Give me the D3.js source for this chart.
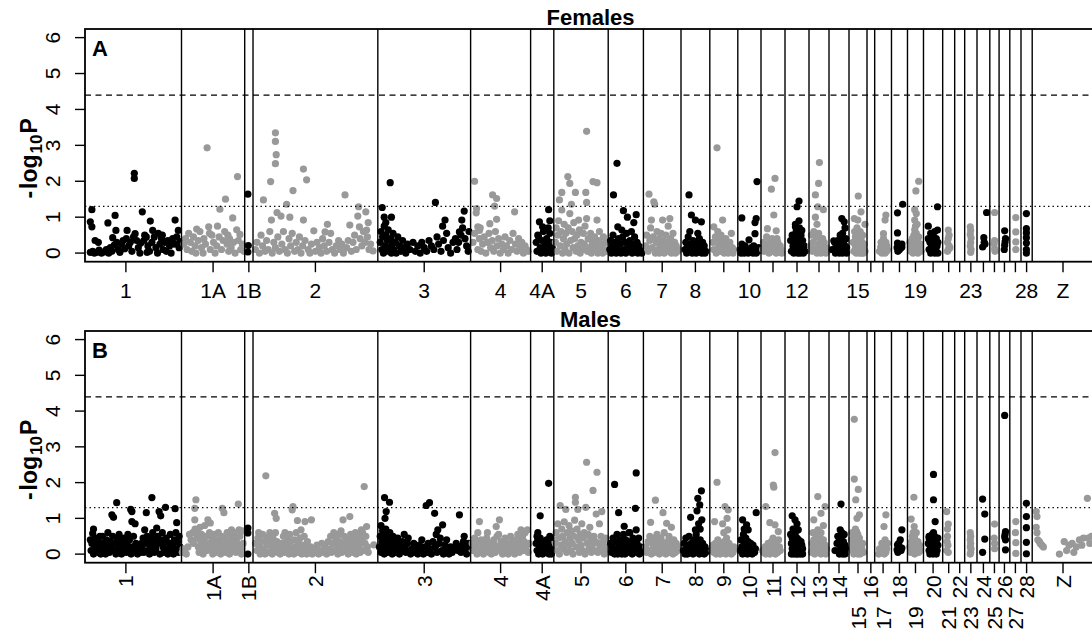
<!DOCTYPE html>
<html><head><meta charset="utf-8">
<script src="https://cdn.jsdelivr.net/npm/d3@7"></script>
<style>body{margin:0;background:#fff}</style>
</head><body><svg id="chart" width="1092" height="634"></svg>
<script>
// ---------------- data ----------------
const chromosomes = ["1","1A","1B","2","3","4","4A","5","6","7","8","9","10","11","12","13","14","15","16","17","18","19","20","21","22","23","24","25","26","27","28","Z"];
const chromLengthMb = [139,79,10.4,156,116,75,29,68,44,47,36,35,29,30,30,25,25,22.5,9.6,21,20,20,24,15,12.5,15.4,16,11.6,13.4,14,14,77];
const yTicks = [0,1,2,3,4,5,6];
const suggestiveLine = 1.3;
const significanceLine = 4.4;
const femaleTickLabels = ["1","1A","1B","2","3","4","4A","5","6","7","8","10","12","15","19","23","28","Z"];
const maleLowerRowLabels = ["15","17","19","21","23","25","27"];
const panelTitles = ["Females","Males"];
const panelLetters = ["A","B"];

// [chromosome, [[position Mb, -log10 P], ...]]
const femaleSNPs = [
["1",[[27,1.21],[25,0.87],[27,0.73],[31,0.35],[35,0.3],[47,0.84],[56,1.05],[57,0.63],[53,0.43],[80,2.22],[80,2.08],[71,0.63],[81,0.54],[90,1.15],[100,0.89],[93,0.5],[103,0.63],[110,0.55],[131,0.92],[135,0.63],
[25,0.02],[28,0.05],[30,0.0],[33,0.02],[36,0.08],[39,0.0],[42,0.03],[45,0.1],[48,0.0],[50,0.15],[52,0.05],[55,0.22],[58,0.3],[60,0.1],[62,0.02],[64,0.25],[66,0.35],[68,0.12],[70,0.4],[73,0.2],[75,0.3],[77,0.05],[79,0.45],[83,0.35],[85,0.15],[87,0.0],[88,0.28],[92,0.35],[95,0.45],[97,0.2],[99,0.05],[102,0.3],[105,0.45],[107,0.15],[109,0.0],[112,0.25],[114,0.4],[116,0.1],[118,0.3],[120,0.05],[122,0.35],[124,0.2],[126,0.0],[128,0.4],[130,0.25],[133,0.45],[136,0.15],[137,0.32],[115,0.5],[96,0.02]]],
["1A",[[32,2.93],[70,2.13],[55,1.5],[48,1.22],[64,0.98],[45,0.75],[34,0.73],[19,0.67],[69,0.65],[73,0.52],
[3,0.25],[5,0.4],[7,0.1],[9,0.55],[11,0.3],[13,0.05],[15,0.45],[17,0.2],[18,0.0],[21,0.35],[23,0.6],[25,0.15],[27,0.0],[28,0.4],[30,0.25],[36,0.1],[38,0.5],[40,0.3],[42,0.0],[44,0.2],[47,0.45],[50,0.1],[52,0.35],[54,0.6],[57,0.25],[59,0.05],[60,0.4],[62,0.15],[65,0.3],[67,0.0],[71,0.35],[74,0.1],[76,0.25],[78,0.05],[35,0.55],[58,0.5]]],
["1B",[[4,1.64],[4.5,0.21],[4,0.03]]],
["2",[[28,3.35],[28,3.11],[29,2.74],[28,2.49],[22,1.99],[13,1.48],[63,2.34],[67,2.04],[50,1.74],[42,1.36],[115,1.62],[132,1.29],[141,1.15],[30,1.13],[23,0.92],[35,1.03],[46,1.0],[63,0.92],[76,0.62],[93,0.8],[90,0.59],[131,1.03],[133,0.73],[142,0.64],[121,0.78],[150,0.06],
[3,0.1],[5,0.3],[8,0.0],[10,0.5],[12,0.2],[15,0.05],[17,0.35],[19,0.1],[21,0.6],[24,0.0],[26,0.3],[28,0.15],[31,0.45],[33,0.05],[36,0.25],[38,0.6],[40,0.1],[43,0.0],[45,0.4],[47,0.2],[49,0.55],[52,0.05],[54,0.3],[56,0.1],[58,0.45],[60,0.0],[62,0.2],[65,0.35],[69,0.1],[71,0.0],[73,0.25],[78,0.05],[80,0.3],[83,0.15],[85,0.0],[87,0.4],[89,0.2],[92,0.05],[95,0.3],[97,0.55],[99,0.1],[102,0.0],[104,0.2],[107,0.35],[109,0.1],[111,0.25],[113,0.0],[117,0.15],[119,0.35],[123,0.05],[125,0.3],[127,0.5],[129,0.1],[134,0.4],[136,0.2],[138,0.6],[140,0.3],[143,0.45],[145,0.1],[147,0.25],[144,0.85]]],
["3",[[15.5,1.96],[5.5,1.27],[72,1.41],[108,1.17],[105,0.92],[84,0.92],[81,0.75],[102,0.59],[17,1.0],[8,1.0],[10,0.85],
[3,0.3],[4,0.6],[5,0.1],[6,0.45],[7,0.0],[8,0.75],[9,0.2],[10,0.5],[11,0.05],[12,0.35],[13,0.65],[14,0.15],[16,0.4],[17,0.0],[18,0.25],[19,0.55],[20,0.1],[22,0.3],[23,0.0],[25,0.45],[27,0.2],[29,0.05],[31,0.35],[33,0.15],[35,0.0],[37,0.25],[40,0.1],[44,0.3],[47,0.05],[50,0.2],[53,0.0],[55,0.3],[58,0.15],[61,0.05],[64,0.35],[67,0.2],[70,0.1],[74,0.45],[76,0.25],[79,0.05],[82,0.35],[86,0.55],[88,0.15],[91,0.0],[94,0.3],[97,0.4],[99,0.1],[101,0.3],[104,0.5],[106,0.7],[109,0.4],[111,0.2],[113,0.05],[114,0.6]]],
["4",[[5,2.0],[27.5,1.62],[32.5,1.52],[7.5,1.24],[7,1.12],[30,1.31],[55,1.15],[32.5,0.94],[24,0.82],[9,0.73],[11,0.63],
[3,0.3],[5,0.55],[9,0.1],[11,0.4],[13,0.05],[15,0.25],[17,0.45],[19,0.0],[21,0.3],[23,0.55],[25,0.15],[27,0.35],[29,0.05],[31,0.6],[33,0.2],[35,0.4],[37,0.0],[39,0.25],[41,0.1],[43,0.45],[45,0.2],[47,0.0],[49,0.35],[51,0.1],[53,0.55],[56,0.25],[58,0.05],[60,0.4],[62,0.15],[64,0.3],[66,0.0],[68,0.2],[70,0.1],[72,0.05],[12,0.7]]],
["4A",[[22.5,1.21],[24,0.9],[11,0.87],[15,0.73],[9,0.5],
[7,0.3],[8,0.05],[10,0.45],[12,0.15],[13,0.0],[14,0.35],[16,0.6],[17,0.1],[18,0.25],[19,0.0],[20,0.4],[21,0.2],[23,0.05],[24,0.55],[25,0.3],[26,0.0],[27,0.15],[22,0.7]]],
["5",[[41,3.39],[17.5,2.13],[20,1.94],[10,1.69],[27,1.69],[40,1.69],[49,1.99],[54,1.96],[7,1.48],[22,1.36],[41,1.41],[10,1.2],[20,1.1],[31,0.92],[41,0.96],[54,0.92],
[2,0.3],[3,0.7],[4,0.05],[5,0.5],[6,0.9],[8,0.2],[9,0.6],[11,0.0],[12,0.4],[13,0.8],[14,0.1],[15,0.55],[16,0.25],[18,0.7],[19,0.0],[21,0.35],[23,0.6],[24,0.15],[25,0.85],[26,0.4],[28,0.05],[29,0.5],[30,0.2],[32,0.65],[33,0.0],[34,0.3],[36,0.1],[37,0.55],[38,0.25],[39,0.75],[42,0.05],[43,0.4],[44,0.15],[46,0.55],[47,0.0],[48,0.3],[50,0.1],[51,0.45],[52,0.2],[55,0.0],[56,0.35],[57,0.6],[58,0.1],[60,0.25],[61,0.0],[62,0.45],[64,0.1],[65,0.3],[66,0.05]]],
["6",[[11,2.5],[6.6,1.62],[19,1.18],[24,1.0],[35,1.07],[12,0.73],[17,0.64],[32,0.85],[29,0.6],
[2,0.1],[3,0.35],[4,0.0],[5,0.2],[6,0.5],[8,0.05],[9,0.3],[10,0.0],[12,0.15],[13,0.4],[14,0.05],[15,0.25],[16,0.0],[18,0.45],[20,0.1],[21,0.3],[22,0.0],[23,0.55],[25,0.2],[26,0.05],[27,0.35],[28,0.1],[30,0.0],[31,0.25],[33,0.45],[34,0.1],[36,0.3],[37,0.0],[38,0.2],[40,0.05],[41,0.15],[42,0.0]]],
["7",[[7,1.64],[13,1.43],[14,1.36],[10,0.92],[24,0.92],[33,0.96],
[3,0.2],[4,0.5],[6,0.05],[8,0.35],[9,0.7],[11,0.15],[12,0.45],[15,0.0],[16,0.3],[17,0.6],[18,0.1],[19,0.4],[20,0.0],[21,0.25],[22,0.55],[23,0.1],[25,0.35],[26,0.0],[27,0.2],[28,0.5],[29,0.05],[30,0.3],[31,0.75],[32,0.15],[34,0.4],[35,0.0],[36,0.25],[37,0.55],[38,0.1],[39,0.3],[40,0.0],[41,0.2],[43,0.05],[44,0.1]]],
["8",[[10,1.62],[13,1.06],[18,0.92],[25.5,0.87],[11,0.6],[21,0.55],
[5,0.1],[6,0.3],[7,0.0],[8,0.2],[9,0.45],[11,0.05],[12,0.25],[14,0.0],[15,0.35],[16,0.1],[17,0.2],[19,0.0],[20,0.3],[22,0.05],[23,0.4],[24,0.15],[26,0.0],[27,0.3],[28,0.1],[29,0.2],[30,0.0],[31,0.05],[10,0.15],[20,0.1]]],
["9",[[9,2.93],[16,0.92],[5,0.73],[10,0.6],
[4,0.3],[5,0.1],[7,0.45],[8,0.0],[11,0.2],[12,0.35],[13,0.05],[14,0.5],[15,0.15],[17,0.3],[18,0.0],[19,0.2],[20,0.4],[21,0.1],[22,0.25],[23,0.0],[24,0.15],[25,0.3],[26,0.05],[27,0.55],[28,0.15],[29,0.0],[30,0.1]]],
["10",[[24,1.99],[5,0.98],[23,0.96],[21.5,0.85],[21.5,0.54],[14,0.37],
[3,0.1],[4,0.0],[5,0.25],[6,0.05],[7,0.15],[8,0.0],[9,0.2],[10,0.05],[12,0.1],[13,0.0],[15,0.05],[17,0.15],[19,0.0],[20,0.2],[22,0.1],[23,0.0],[25,0.05],[26,0.15]]],
["11",[[17.5,2.08],[13,1.78],[16,1.06],[8,0.68],[19,0.62],[20,0.4],
[2,0.1],[3,0.3],[4,0.05],[6,0.2],[7,0.45],[9,0.1],[10,0.0],[11,0.3],[12,0.15],[14,0.4],[15,0.05],[17,0.25],[18,0.1],[19,0.0],[21,0.3],[22,0.15],[23,0.05],[24,0.2],[25,0.1],[26,0.0]]],
["12",[[17.5,1.45],[15,1.29],[17.5,0.9],[13,0.73],[21,0.63],[14,0.55],
[7,0.35],[8,0.05],[9,0.5],[10,0.2],[11,0.0],[12,0.4],[13,0.1],[14,0.6],[15,0.25],[16,0.0],[16,0.45],[17,0.15],[18,0.7],[19,0.3],[19,0.0],[20,0.5],[21,0.1],[22,0.35],[23,0.0],[24,0.2],[25,0.05],[13,0.8],[12,0.25],[20,0.15]]],
["13",[[13,2.52],[12,1.94],[8,1.62],[11,1.29],[18,1.21],[8,1.0],[10,0.8],
[2,0.2],[3,0.5],[4,0.05],[5,0.3],[6,0.6],[7,0.1],[9,0.45],[10,0.0],[11,0.25],[12,0.55],[13,0.15],[14,0.35],[15,0.0],[16,0.2],[17,0.4],[18,0.05],[19,0.3],[20,0.1],[21,0.0],[22,0.15],[23,0.05]]],
["14",[[16,0.96],[19,0.87],[6,0.34],[14,0.5],[20,0.7],
[4,0.1],[7,0.3],[8,0.0],[9,0.2],[10,0.05],[11,0.35],[12,0.1],[13,0.0],[14,0.25],[15,0.45],[16,0.1],[17,0.0],[17,0.55],[18,0.3],[19,0.05],[20,0.2],[21,0.4],[22,0.0],[22,0.15]]],
["15",[[11.6,1.59],[15,1.15],[6.6,0.96],[11,0.92],
[5,0.3],[6,0.05],[7,0.6],[8,0.2],[8,0.45],[9,0.0],[10,0.35],[10,0.7],[11,0.1],[12,0.5],[13,0.25],[13,0.0],[14,0.6],[15,0.4],[15,0.1],[16,0.0],[16,0.3],[17,0.5],[18,0.15],[18,0.0],[19,0.25],[20,0.8],[20,0.05]]],
["17",[[14,1.06],[13,0.92],[11,0.54],[7.5,0.17],
[6,0.05],[8,0.3],[9,0.0],[10,0.2],[11,0.4],[12,0.1],[13,0.0],[14,0.3],[15,0.05],[15,0.2],[16,0.1]]],
["18",[[14,1.36],[7.5,1.12],[7.5,0.56],[7.5,0.28],[13,0.17],
[7,0.15],[8,0.05],[9,0.2],[10,0.1],[12,0.15],[13,0.25]]],
["19",[[14,2.0],[10.5,1.73],[9,1.21],[11,1.1],[9,0.92],[10,0.75],
[3,0.3],[4,0.05],[5,0.15],[6,0.4],[7,0.0],[8,0.5],[9,0.2],[9,0.65],[10,0.35],[10,0.05],[11,0.55],[12,0.1],[12,0.8],[13,0.3],[13,0.0],[14,0.45],[15,0.15],[16,0.25],[17,0.05]]],
["20",[[17.5,1.29],[6,0.75],[17.5,0.64],[12,0.5],
[6,0.4],[7,0.1],[8,0.3],[9,0.0],[9,0.55],[10,0.2],[11,0.45],[12,0.05],[13,0.35],[13,0.15],[14,0.0],[14,0.6],[15,0.25],[16,0.4],[16,0.05],[17,0.2],[18,0.3],[18,0.0]]],
["21",[[7,0.64],[8,0.5],[7,0.4],[6,0.3],[8,0.2],[7,0.1],[6,0.05],[9,0.15]]],
["23",[[7,0.73],[7.5,0.63],[7,0.52],[8,0.42],[7.5,0.3],[7,0.2],[8,0.1],[7.5,0.02]]],
["24",[[12,1.13],[8.5,0.43],[7,0.17],[9,0.3],[10,0.25]]],
["25",[[6,1.13],[6,0.35],[6,0.12],[5.5,0.25],[6.5,0.05]]],
["26",[[7,0.62],[7.5,0.31],[6.5,0.1],[7,0.22],[8,0.4]]],
["27",[[7.5,0.99],[7.5,0.59],[7.5,0.31],[7.5,0.1]]],
["28",[[6.75,1.1],[6.75,0.68],[6.75,0.56],[6.75,0.43],[6.75,0.28],[6.75,0.1],[6.75,0.0]]]
];

const maleSNPs = [
["1",[[102,1.58],[58,1.44],[119,1.31],[131,1.27],[75.5,1.25],[77,1.19],[52,1.1],[54,1.03],[95,1.16],[111,1.19],[113,1.07],[29,0.7],[28,0.58],[37,0.5],[93,0.68],[108,0.73],[133,0.88],[77,0.91],[81,0.85],
[25,0.4],[26,0.1],[27,0.3],[29,0.0],[30,0.25],[31,0.45],[33,0.15],[34,0.35],[35,0.05],[36,0.2],[38,0.0],[39,0.3],[40,0.5],[41,0.1],[43,0.25],[44,0.0],[45,0.4],[46,0.15],[47,0.6],[48,0.3],[49,0.05],[50,0.35],[51,0.2],[53,0.5],[55,0.1],[56,0.3],[57,0.0],[59,0.4],[60,0.15],[61,0.55],[62,0.25],[64,0.0],[65,0.35],[66,0.1],[67,0.45],[68,0.2],[70,0.05],[71,0.3],[72,0.55],[73,0.15],[74,0.4],[76,0.0],[78,0.2],[79,0.5],[80,0.1],[82,0.3],[84,0.0],[86,0.2],[87,0.1],[88,0.05],[89,0.3],[90,0.15],[91,0.45],[92,0.05],[94,0.3],[96,0.5],[97,0.1],[98,0.35],[99,0.0],[100,0.2],[101,0.45],[103,0.6],[104,0.25],[105,0.05],[106,0.4],[107,0.15],[109,0.5],[110,0.3],[112,0.0],[114,0.4],[115,0.6],[116,0.2],[117,0.05],[118,0.35],[120,0.45],[121,0.15],[122,0.0],[124,0.3],[125,0.55],[126,0.1],[128,0.25],[129,0.0],[130,0.4],[132,0.6],[133,0.15],[134,0.35],[135,0.05],[136,0.5],[137,0.2]]],
["1A",[[18,1.52],[16.6,1.28],[71,1.4],[51,1.28],[53,1.16],[16.6,0.96],[33,0.96],[36,0.87],[72,0.68],[62.5,0.68],[29,0.8],[23,0.75],
[1,0.05],[2,0.15],[4,0.1],[6,0.0],[8,0.2],[10,0.55],[12,0.4],[14,0.6],[15,0.3],[17,0.7],[19,0.45],[20,0.6],[21,0.2],[22,0.05],[24,0.35],[25,0.55],[26,0.15],[27,0.0],[28,0.4],[30,0.25],[31,0.5],[32,0.1],[34,0.3],[35,0.6],[37,0.15],[38,0.45],[39,0.0],[40,0.3],[41,0.55],[42,0.2],[43,0.05],[44,0.4],[45,0.25],[46,0.6],[47,0.1],[48,0.35],[49,0.0],[50,0.5],[52,0.2],[54,0.45],[55,0.05],[56,0.3],[57,0.6],[58,0.15],[59,0.4],[60,0.0],[61,0.25],[63,0.5],[64,0.1],[65,0.35],[66,0.6],[67,0.2],[68,0.05],[69,0.45],[70,0.3],[73,0.5],[74,0.15],[75,0.0],[76,0.65],[77,0.3]]],
["1B",[[4,0.73],[4,0.59],[4,0.0]]],
["2",[[16,2.19],[139,1.89],[50,1.33],[49,1.24],[27,1.14],[29,1.0],[121,1.05],[112.5,0.96],[55.5,0.94],[65,0.91],[73,0.96],[142,0.77],[135.5,0.68],[151,0.26],[7,0.6],[21,0.6],[40,0.6],[60,0.68],
[3,0.3],[5,0.1],[6,0.45],[8,0.2],[9,0.0],[11,0.35],[12,0.55],[13,0.15],[15,0.0],[17,0.4],[18,0.25],[19,0.05],[20,0.5],[22,0.3],[23,0.1],[24,0.0],[25,0.45],[26,0.2],[28,0.6],[30,0.35],[31,0.05],[33,0.2],[34,0.0],[36,0.3],[37,0.15],[38,0.5],[39,0.05],[41,0.3],[42,0.45],[43,0.1],[44,0.25],[45,0.0],[46,0.55],[47,0.35],[48,0.15],[51,0.0],[52,0.4],[53,0.2],[54,0.6],[56,0.05],[57,0.3],[58,0.15],[59,0.45],[61,0.0],[62,0.25],[63,0.1],[64,0.5],[66,0.2],[67,0.0],[68,0.35],[69,0.1],[70,0.05],[72,0.2],[74,0.0],[76,0.15],[78,0.05],[80,0.25],[82,0.0],[84,0.1],[86,0.3],[88,0.05],[90,0.2],[92,0.0],[94,0.35],[96,0.15],[97,0.5],[98,0.05],[100,0.3],[101,0.6],[102,0.1],[104,0.45],[105,0.25],[106,0.0],[107,0.55],[108,0.35],[109,0.15],[110,0.65],[111,0.05],[113,0.3],[114,0.5],[115,0.1],[117,0.4],[118,0.2],[119,0.0],[120,0.35],[122,0.55],[123,0.15],[124,0.3],[125,0.05],[126,0.45],[127,0.2],[128,0.6],[129,0.0],[130,0.35],[131,0.15],[132,0.5],[133,0.25],[134,0.05],[136,0.4],[137,0.6],[138,0.1],[140,0.3],[141,0.5],[143,0.2],[144,0.05]]],
["3",[[8.4,1.58],[14.6,1.45],[64.6,1.44],[60.5,1.36],[10.5,1.19],[9,1.0],[71,1.14],[102,1.1],[81,0.82],[75,0.68],[108,0.5],
[2,0.2],[3,0.5],[4,0.8],[4,0.05],[5,0.35],[6,0.65],[6,0.15],[7,0.45],[8,0.0],[9,0.3],[10,0.7],[11,0.2],[11,0.55],[12,0.05],[13,0.4],[14,0.25],[15,0.6],[16,0.1],[17,0.35],[18,0.0],[19,0.5],[20,0.2],[21,0.4],[22,0.05],[23,0.3],[24,0.15],[25,0.45],[27,0.0],[28,0.25],[30,0.1],[31,0.35],[33,0.55],[34,0.2],[35,0.05],[37,0.3],[38,0.45],[40,0.1],[41,0.0],[43,0.15],[45,0.3],[46,0.05],[48,0.2],[50,0.0],[52,0.25],[54,0.1],[55,0.4],[57,0.0],[59,0.2],[62,0.05],[63,0.3],[66,0.15],[67,0.0],[69,0.35],[72,0.2],[73,0.55],[74,0.05],[77,0.3],[78,0.45],[80,0.1],[82,0.0],[84,0.25],[86,0.4],[87,0.1],[89,0.0],[91,0.2],[93,0.05],[95,0.15],[98,0.3],[100,0.1],[103,0.2],[104,0.05],[106,0.25],[107,0.35],[109,0.15],[111,0.0],[113,0.3],[114,0.2]]],
["4",[[11,0.91],[36,0.96],[32,0.77],[63,0.68],[71,0.68],[21,0.6],
[2,0.3],[3,0.1],[5,0.45],[7,0.2],[8,0.0],[9,0.6],[10,0.35],[12,0.1],[13,0.4],[15,0.2],[16,0.0],[18,0.3],[19,0.1],[20,0.45],[22,0.2],[23,0.05],[25,0.3],[26,0.0],[27,0.15],[29,0.4],[30,0.25],[31,0.05],[33,0.5],[34,0.2],[35,0.55],[37,0.1],[38,0.35],[40,0.0],[41,0.25],[43,0.45],[44,0.1],[45,0.3],[47,0.0],[48,0.2],[50,0.5],[51,0.35],[52,0.1],[54,0.25],[55,0.0],[57,0.4],[58,0.15],[59,0.55],[60,0.3],[61,0.05],[62,0.45],[64,0.2],[65,0.5],[66,0.1],[67,0.35],[68,0.6],[69,0.15],[70,0.25],[72,0.05],[73,0.3]]],
["4A",[[22.5,1.98],[12,1.07],[24,0.5],[9,0.6],[8,0.5],
[7,0.3],[8,0.1],[9,0.4],[10,0.0],[11,0.25],[12,0.45],[13,0.1],[14,0.3],[15,0.0],[16,0.2],[17,0.35],[18,0.05],[19,0.25],[20,0.4],[21,0.1],[22,0.3],[23,0.0],[24,0.2],[25,0.45],[26,0.15],[26,0.0]]],
["5",[[41,2.57],[54,2.29],[49,1.78],[27,1.59],[27,1.45],[8,1.36],[40,1.31],[60,1.19],[53,1.12],[15,1.25],[30,1.25],
[2,0.3],[3,0.6],[4,0.1],[5,0.85],[6,0.45],[7,0.0],[9,0.25],[10,0.7],[11,0.5],[12,0.15],[13,0.9],[14,0.35],[16,0.05],[17,0.6],[18,0.25],[19,0.8],[20,0.45],[21,0.1],[22,0.65],[23,0.3],[24,0.0],[25,0.5],[26,0.95],[28,0.2],[29,0.7],[31,0.4],[32,0.05],[33,0.55],[34,0.25],[35,0.85],[36,0.1],[37,0.45],[38,0.6],[39,0.0],[42,0.3],[43,0.55],[44,0.15],[45,0.75],[46,0.4],[47,0.05],[48,0.25],[50,0.5],[51,0.1],[52,0.35],[55,0.05],[56,0.3],[57,0.85],[58,0.2],[59,0.5],[61,0.1],[62,0.35],[63,0.0],[64,0.2],[65,0.45],[66,0.15]]],
["6",[[35,2.27],[8,1.95],[34,1.28],[13,1.16],[20,0.78],[35,0.68],[27,0.6],
[3,0.3],[4,0.05],[5,0.2],[6,0.45],[7,0.1],[8,0.0],[9,0.35],[10,0.15],[11,0.55],[12,0.0],[14,0.25],[15,0.4],[16,0.1],[17,0.0],[18,0.3],[19,0.55],[20,0.15],[21,0.0],[22,0.4],[23,0.2],[24,0.05],[25,0.35],[26,0.6],[28,0.1],[29,0.3],[30,0.0],[31,0.45],[32,0.2],[33,0.05],[36,0.3],[37,0.1],[38,0.45],[39,0.0],[40,0.2],[41,0.05]]],
["7",[[15,1.51],[24.5,1.16],[9,0.89],[29,0.86],[35,0.75],
[3,0.2],[4,0.05],[6,0.35],[7,0.1],[8,0.5],[10,0.0],[11,0.3],[12,0.15],[13,0.45],[14,0.05],[16,0.25],[17,0.55],[18,0.1],[19,0.35],[20,0.0],[21,0.2],[22,0.45],[23,0.05],[25,0.3],[26,0.6],[27,0.15],[28,0.0],[30,0.35],[31,0.2],[32,0.5],[33,0.05],[34,0.3],[36,0.15],[37,0.0],[38,0.4],[39,0.2],[40,0.05],[41,0.3],[43,0.1],[44,0.2]]],
["8",[[25.5,1.77],[21,1.56],[23.4,1.38],[20,1.21],[12,1.03],[26,0.96],[22,0.85],[18,0.68],[24,0.7],
[3,0.1],[4,0.3],[5,0.0],[6,0.45],[7,0.15],[8,0.0],[9,0.25],[10,0.5],[11,0.05],[13,0.3],[14,0.1],[15,0.0],[16,0.4],[17,0.2],[19,0.55],[20,0.05],[21,0.3],[22,0.15],[23,0.0],[24,0.4],[25,0.2],[26,0.05],[27,0.3],[28,0.1],[29,0.0],[30,0.2],[31,0.05],[32,0.1]]],
["9",[[9,2.01],[19,1.33],[23,1.24],[21.6,1.0],[6,0.91],[16,0.85],[22.5,0.68],[17.5,0.6],
[3,0.1],[4,0.25],[5,0.05],[7,0.3],[8,0.0],[9,0.15],[10,0.4],[11,0.05],[12,0.2],[13,0.0],[14,0.3],[15,0.1],[17,0.05],[18,0.35],[19,0.2],[20,0.0],[21,0.45],[23,0.1],[24,0.3],[25,0.05],[26,0.15],[27,0.0],[28,0.1],[29,0.05],[30,0.2]]],
["10",[[23,1.16],[6,0.96],[11,0.82],[13,0.68],[8,0.7],
[3,0.1],[4,0.4],[5,0.2],[6,0.0],[7,0.55],[8,0.3],[9,0.05],[10,0.45],[11,0.15],[12,0.0],[13,0.35],[14,0.2],[15,0.05],[16,0.3],[17,0.1],[18,0.0],[19,0.25],[20,0.1],[21,0.05],[22,0.15]]],
["11",[[17.5,2.84],[15.4,1.93],[16,1.87],[6,1.33],[11,0.88],[17.5,0.82],[21.6,0.63],
[2,0.1],[3,0.05],[5,0.2],[6,0.0],[8,0.15],[9,0.3],[10,0.05],[11,0.0],[12,0.2],[13,0.35],[14,0.1],[15,0.45],[16,0.05],[17,0.25],[18,0.0],[19,0.3],[20,0.15],[21,0.05],[22,0.4],[23,0.2],[24,0.1]]],
["12",[[9,1.07],[12.5,0.96],[15,0.85],[16.6,0.68],
[7,0.55],[8,0.3],[8,0.0],[9,0.45],[9,0.15],[10,0.7],[10,0.05],[11,0.35],[11,0.0],[12,0.2],[12,0.5],[13,0.1],[13,0.6],[14,0.0],[14,0.3],[15,0.45],[15,0.1],[16,0.25],[16,0.0],[17,0.4],[17,0.15],[18,0.05],[18,0.3],[19,0.2],[19,0.0],[20,0.35],[20,0.1],[21,0.25],[21,0.05],[22,0.0],[22,0.15]]],
["13",[[11,1.61],[20,1.33],[15,1.14],[6,0.96],[18,0.8],[11,0.68],[15,0.6],
[3,0.05],[4,0.3],[5,0.15],[5,0.6],[6,0.4],[7,0.0],[8,0.25],[9,0.5],[10,0.1],[11,0.35],[12,0.05],[13,0.2],[14,0.45],[15,0.0],[16,0.3],[17,0.15],[18,0.4],[19,0.05],[20,0.25],[21,0.0],[22,0.15]]],
["14",[[15,1.4],[14,0.68],[16,0.6],[19,0.55],[7.5,0.1],
[10,0.3],[11,0.5],[12,0.1],[13,0.4],[13,0.0],[14,0.25],[15,0.05],[15,0.45],[16,0.3],[17,0.0],[17,0.2],[18,0.35],[19,0.1],[20,0.0],[20,0.25],[21,0.15]]],
["15",[[6.6,3.77],[6.6,2.1],[11.6,1.81],[8.4,1.52],[13,1.1],[10,1.0],[9.5,0.63],
[3,0.4],[4,0.1],[4,0.6],[5,0.25],[6,0.0],[6,0.5],[7,0.35],[8,0.15],[8,0.7],[9,0.05],[9,0.4],[10,0.2],[11,0.55],[11,0.0],[12,0.3],[12,0.1],[13,0.45],[14,0.0],[14,0.25],[15,0.05],[16,0.15],[17,0.3],[18,0.05]]],
["17",[[14,1.1],[11.6,0.77],[13,0.4],
[5,0.0],[6,0.15],[8,0.05],[9,0.3],[10,0.1],[11,0.2],[12,0.0],[13,0.25],[14,0.05],[15,0.15],[16,0.3]]],
["18",[[13,0.68],[7.5,0.26],[13,0.17],[7,0.12],[9,0.3],[11,0.4],[12,0.1],[8,0.05],[10,0.2]]],
["19",[[8,1.59],[4.6,0.98],[8.4,0.77],[7,0.6],
[3,0.2],[4,0.05],[5,0.35],[6,0.5],[7,0.1],[8,0.3],[9,0.0],[9,0.45],[10,0.2],[11,0.6],[12,0.1],[13,0.35],[14,0.05],[15,0.25],[16,0.1]]],
["20",[[12.5,2.23],[12.5,1.52],[14.6,0.91],[12.5,0.6],[7,0.5],
[6,0.3],[7,0.1],[7,0.45],[8,0.0],[8,0.25],[9,0.5],[9,0.15],[10,0.35],[10,0.05],[11,0.2],[11,0.55],[12,0.0],[12,0.4],[13,0.15],[13,0.3],[14,0.05],[14,0.5],[15,0.2],[16,0.35],[16,0.0],[17,0.1],[18,0.25],[18,0.45]]],
["21",[[5,1.19],[7,0.84],[6,0.7],[6,0.5],[5.5,0.35],[6.5,0.25],[5,0.1],[7,0.05]]],
["23",[[7,0.6],[7.5,0.5],[7,0.4],[7.5,0.3],[7,0.2],[8,0.15],[7.5,0.05],[7,0.0]]],
["24",[[7,1.54],[9.7,1.12],[9.7,0.42],[7,0.05]]],
["25",[[6,0.84],[5.5,0.45],[6,0.3],[6,0.15]]],
["26",[[7,3.88],[8,0.63],[7.5,0.55],[7,0.48],[8,0.4],[8,0.12]]],
["27",[[7.5,0.91],[7,0.6],[7.5,0.32],[7.5,0.02]]],
["28",[[6.75,1.42],[6.75,1.05],[6.75,0.74],[6.75,0.33],[6.75,0.01]]],
["Z",[[5,1.19],[6,1.05],[5,0.75],[6,0.6],[7,0.4],[9,0.35],[10,0.3],[12,0.25],[14,0.2],[34,0.0],[40,0.35],[43,0.1],[46,0.25],[50,0.3],[52,0.05],[55,0.2],[59,0.4],[62,0.25],[64,0.45],[69,1.56],[70,0.45],[72,0.3],[74,0.5]]]
];

// ---------------- drawing ----------------
const W = 1092, H = 634;
const FONT = "'Liberation Sans', Arial, Helvetica, sans-serif";
const svg = d3.select("#chart");
svg.append("rect").attr("width", W).attr("height", H).attr("fill", "#fff");

const chromStart = [];
let acc = 0;
chromLengthMb.forEach((L, i) => { chromStart.push(acc); acc += L; });
const genomeLength = acc;
const startOf = new Map(chromosomes.map((c, i) => [c, chromStart[i]]));
const colorOf = new Map(chromosomes.map((c, i) => [c, i % 2 === 0 ? "#000000" : "#999999"]));

const x = d3.scaleLinear().domain([0, genomeLength]).range([70.3, 1093.8]);
const boxLeft = 85, boxRight = 1096;

const panels = [
  { top: 29, bottom: 261.7, data: femaleSNPs, title: panelTitles[0], letter: panelLetters[0], rotated: false },
  { top: 331, bottom: 562.7, data: maleSNPs, title: panelTitles[1], letter: panelLetters[1], rotated: true }
];

panels.forEach((p, pi) => {
  const y = d3.scaleLinear().domain([-0.24, 6.24]).range([p.bottom, p.top]);
  const g = svg.append("g");
  const clipId = "clip" + pi;
  svg.append("clipPath").attr("id", clipId).append("rect")
    .attr("x", boxLeft).attr("y", p.top).attr("width", boxRight - boxLeft).attr("height", p.bottom - p.top);

  const inner = g.append("g").attr("clip-path", `url(#${clipId})`);

  // points
  const pts = [];
  p.data.forEach(([chr, arr]) => arr.forEach(([pos, v]) => pts.push({ chr, pos, v })));
  inner.selectAll("circle").data(pts).join("circle")
    .attr("cx", d => x(startOf.get(d.chr) + d.pos))
    .attr("cy", d => y(d.v))
    .attr("r", 3.6)
    .attr("fill", d => colorOf.get(d.chr));

  // chromosome separators
  inner.selectAll("line.sep").data(chromStart.slice(1)).join("line")
    .attr("class", "sep")
    .attr("x1", d => x(d)).attr("x2", d => x(d))
    .attr("y1", p.top).attr("y2", p.bottom)
    .attr("stroke", "#000").attr("stroke-width", 1.4);

  // threshold lines
  inner.append("line")
    .attr("x1", boxLeft).attr("x2", boxRight)
    .attr("y1", y(significanceLine)).attr("y2", y(significanceLine))
    .attr("stroke", "#000").attr("stroke-width", 1.3).attr("stroke-dasharray", "6,4.5");
  inner.append("line")
    .attr("x1", boxLeft).attr("x2", boxRight)
    .attr("y1", y(suggestiveLine)).attr("y2", y(suggestiveLine))
    .attr("stroke", "#000").attr("stroke-width", 1.4).attr("stroke-dasharray", "1.4,3.1");

  // box
  g.append("rect").attr("x", boxLeft).attr("y", p.top)
    .attr("width", boxRight - boxLeft).attr("height", p.bottom - p.top)
    .attr("fill", "none").attr("stroke", "#000").attr("stroke-width", 1.8);

  // y axis
  const ya = g.append("g");
  ya.selectAll("line").data(yTicks).join("line")
    .attr("x1", boxLeft - 10).attr("x2", boxLeft)
    .attr("y1", d => y(d)).attr("y2", d => y(d))
    .attr("stroke", "#000").attr("stroke-width", 1.4);
  ya.selectAll("text").data(yTicks).join("text")
    .attr("transform", d => `translate(60,${y(d)}) rotate(-90)`)
    .attr("text-anchor", "middle")
    .attr("font-family", FONT).attr("font-size", 21)
    .text(d => d);

  // y label
  const yl = g.append("text")
    .attr("transform", `translate(37,${(p.top + p.bottom) / 2 + 13}) rotate(-90)`)
    .attr("text-anchor", "middle")
    .attr("font-family", FONT).attr("font-size", 23).attr("font-weight", "bold");
  yl.append("tspan").text("-");
  yl.append("tspan").attr("dx", 2).text("log");
  yl.append("tspan").attr("font-size", 17).attr("dy", 5).attr("dx", 1).text("10");
  yl.append("tspan").attr("dy", -5).attr("dx", 1).text("P");

  // x ticks
  const mids = chromosomes.map((c, i) => ({ c, m: chromStart[i] + chromLengthMb[i] / 2 }));
  g.append("g").selectAll("line").data(mids).join("line")
    .attr("x1", d => x(d.m)).attr("x2", d => x(d.m))
    .attr("y1", p.bottom).attr("y2", p.bottom + 10.5)
    .attr("stroke", "#000").attr("stroke-width", 1.4);

  if (!p.rotated) {
    g.append("g").selectAll("text").data(mids.filter(d => femaleTickLabels.includes(d.c))).join("text")
      .attr("x", d => x(d.m)).attr("y", p.bottom + 36.5)
      .attr("text-anchor", "middle")
      .attr("font-family", FONT).attr("font-size", 21)
      .text(d => d.c);
  } else {
    g.append("g").selectAll("text").data(mids).join("text")
      .attr("transform", d => `translate(${x(d.m) + 7.5},${p.bottom + (maleLowerRowLabels.includes(d.c) ? 43.5 : 12.5)}) rotate(-90)`)
      .attr("text-anchor", "end")
      .attr("font-family", FONT).attr("font-size", 21)
      .text(d => d.c);
  }

  // title and panel letter
  g.append("text").attr("x", (boxLeft + boxRight) / 2).attr("y", p.top - 4)
    .attr("text-anchor", "middle").attr("font-family", FONT)
    .attr("font-size", 22).attr("font-weight", "bold").text(p.title);
  g.append("text").attr("x", 92).attr("y", p.top + 27)
    .attr("font-family", FONT).attr("font-size", 22).attr("font-weight", "bold").text(p.letter);
});
</script>
</body></html>
